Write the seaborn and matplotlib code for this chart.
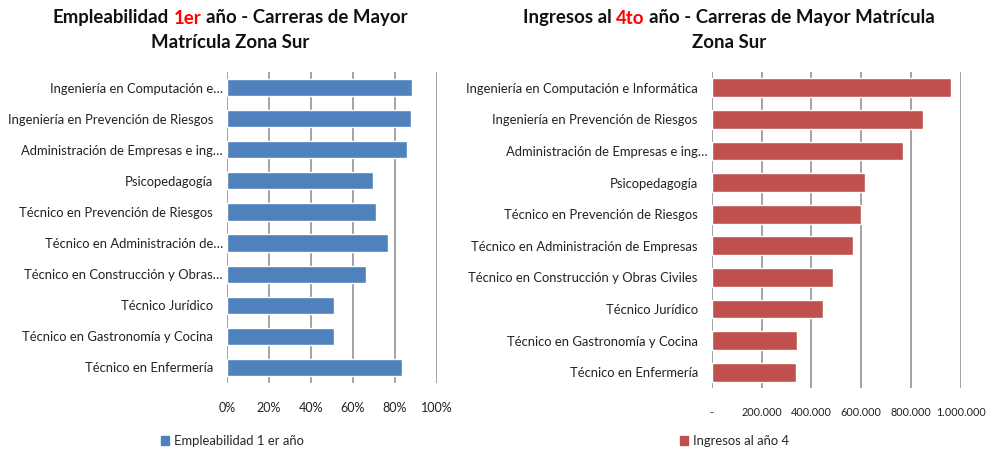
import matplotlib
matplotlib.use("Agg")
import matplotlib.pyplot as plt
import seaborn as sns
import pandas as pd
from matplotlib.ticker import FixedLocator, FixedFormatter
from matplotlib.patches import Patch

# ---------------- data ----------------
left_labels = [
    "Ingeniería en Computación e…",
    "Ingeniería en Prevención de Riesgos",
    "Administración de Empresas e ing…",
    "Psicopedagogía",
    "Técnico en Prevención de Riesgos",
    "Técnico en Administración de…",
    "Técnico en Construcción y Obras…",
    "Técnico Jurídico",
    "Técnico en Gastronomía y Cocina",
    "Técnico en Enfermería",
]
right_labels = [
    "Ingeniería en Computación e Informática",
    "Ingeniería en Prevención de Riesgos",
    "Administración de Empresas e ing…",
    "Psicopedagogía",
    "Técnico en Prevención de Riesgos",
    "Técnico en Administración de Empresas",
    "Técnico en Construcción y Obras Civiles",
    "Técnico Jurídico",
    "Técnico en Gastronomía y Cocina",
    "Técnico en Enfermería",
]
empleabilidad = [0.88, 0.875, 0.858, 0.694, 0.709, 0.768, 0.662, 0.509, 0.509, 0.832]
ingresos = [960000, 850000, 770000, 616000, 598000, 569000, 488000, 446000, 344000, 339000]
left_ticks = [0, 0.2, 0.4, 0.6, 0.8, 1.0]
left_ticklabels = ["0%", "20%", "40%", "60%", "80%", "100%"]
right_ticks = [0, 200000, 400000, 600000, 800000, 1000000]
right_ticklabels = ["-", "200.000", "400.000", "600.000", "800.000", "1.000.000"]
left_legend = "Empleabilidad 1 er año"
right_legend = "Ingresos al año 4"

BLUE = "#4F81BD"
RED = "#C0504D"
GRID = "#8A8A8A"
FONT = ["Lato", "DejaVu Sans"]

sns.set_theme(style="white")
plt.rcParams["font.family"] = FONT

W, H = 988, 454
fig = plt.figure(figsize=(W / 100, H / 100), dpi=100)

def px_axes(x0, x1, ytop, ybot):
    return fig.add_axes([x0 / W, 1 - ybot / H, (x1 - x0) / W, (ybot - ytop) / H])

axL = px_axes(227, 437, 72, 383)
axR = px_axes(711.7, 960.7, 72, 388)

dfL = pd.DataFrame({"carrera": left_labels, "valor": empleabilidad})
dfR = pd.DataFrame({"carrera": right_labels, "valor": ingresos})

sns.barplot(data=dfL, x="valor", y="carrera", orient="h", color=BLUE,
            saturation=1, width=0.55, ax=axL)
sns.barplot(data=dfR, x="valor", y="carrera", orient="h", color=RED,
            saturation=1, width=0.6, ax=axR)

def style(ax, ticks, ticklabels, xmax, labels, xsize):
    ax.set_xlim(0, xmax)
    ax.xaxis.set_major_locator(FixedLocator(ticks))
    ax.xaxis.set_major_formatter(FixedFormatter(ticklabels))
    ax.set_xlabel("")
    ax.set_ylabel("")
    for s in ax.spines.values():
        s.set_visible(False)
    ax.grid(axis="x", color=GRID, linewidth=1.1)
    ax.grid(axis="y", visible=False)
    ax.set_axisbelow(True)
    ax.tick_params(axis="x", length=0, pad=14, labelsize=xsize, labelcolor="#222222")
    ax.tick_params(axis="y", length=0, labelsize=9.4, labelcolor="#222222")
    for t, lab in zip(ax.yaxis.get_major_ticks(), labels):
        t.set_pad(3 if lab.endswith("…") else 10)

style(axL, left_ticks, left_ticklabels, 1.0, left_labels, 9)
style(axR, right_ticks, right_ticklabels, 1000000, right_labels, 7.8)

# ---------------- titles with coloured fragment ----------------
fig.canvas.draw()
renderer = fig.canvas.get_renderer()
TSIZE = 13.4

def text_width(s):
    probe = fig.text(0, 0, "|" + s + "|", fontsize=TSIZE, fontweight="bold", family=FONT)
    base = fig.text(0, 0, "||", fontsize=TSIZE, fontweight="bold", family=FONT)
    w = probe.get_window_extent(renderer).width - base.get_window_extent(renderer).width
    probe.remove()
    base.remove()
    return w

def multicolor_line(xc_px, y_px, parts):
    # parts: list of (word_group, colour); joined by single spaces
    full = " ".join(p for p, _ in parts)
    total = text_width(full)
    x0 = xc_px - total / 2
    prefix = ""
    for i, (s, c) in enumerate(parts):
        off = text_width(prefix) if prefix else 0
        fig.text((x0 + off) / W, 1 - y_px / H, s, color=c, fontsize=TSIZE,
                 fontweight="bold", ha="left", va="center", family=FONT)
        prefix = prefix + s + " "

multicolor_line(230, 18, [("Empleabilidad", "#111111"), ("1er", "#FF0000"),
                          ("año - Carreras de Mayor", "#111111")])
multicolor_line(230, 43, [("Matrícula Zona Sur", "#111111")])
multicolor_line(729, 18, [("Ingresos al", "#111111"), ("4to", "#FF0000"),
                          ("año - Carreras de Mayor Matrícula", "#111111")])
multicolor_line(729, 43, [("Zona Sur", "#111111")])

# ---------------- legends ----------------
fig.legend(handles=[Patch(facecolor=BLUE, edgecolor=BLUE, label=left_legend)],
           loc="center left", bbox_to_anchor=(156 / W, 1 - 441 / H),
           frameon=False, fontsize=9.4, handlelength=0.6, handleheight=0.6,
           handletextpad=0.4, borderaxespad=0)
fig.legend(handles=[Patch(facecolor=RED, edgecolor=RED, label=right_legend)],
           loc="center left", bbox_to_anchor=(675 / W, 1 - 441 / H),
           frameon=False, fontsize=9.4, handlelength=0.6, handleheight=0.6,
           handletextpad=0.4, borderaxespad=0)

fig.savefig("out.png", dpi=100, facecolor="white")
